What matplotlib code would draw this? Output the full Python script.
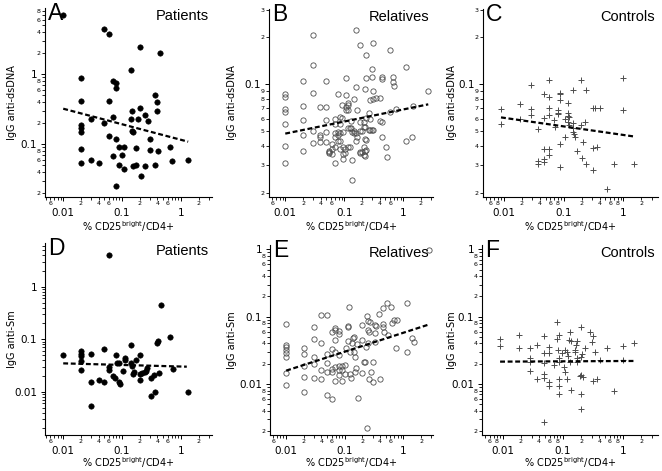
import numpy as np
import matplotlib
matplotlib.use("Agg")
import matplotlib.pyplot as plt
from matplotlib.ticker import LogLocator, FuncFormatter, NullFormatter

# ---- data (x = % CD25bright/CD4+, y = IgG titre) ----
# A: patients, anti-dsDNA
a_x = [0.01, 0.05, 0.06, 0.20, 0.45, 0.14, 0.02, 0.07, 0.08, 0.08, 0.02, 0.06,
       0.36, 0.39, 0.40, 0.20, 0.15, 0.25, 0.28, 0.19, 0.14, 0.07, 0.03, 0.02,
       0.02, 0.02, 0.05, 0.06, 0.08, 0.145, 0.155, 0.30, 0.02, 0.09, 0.11, 0.17,
       0.30, 0.41, 0.65, 0.07, 0.10, 0.02, 0.03, 0.04, 0.09, 0.11, 0.155, 0.175,
       0.25, 0.36, 0.72, 1.33, 0.21, 0.08]
a_y = [7.1, 4.4, 3.8, 2.4, 2.0, 1.15, 0.89, 0.80, 0.74, 0.64, 0.41, 0.41,
       0.50, 0.40, 0.30, 0.33, 0.30, 0.26, 0.21, 0.23, 0.225, 0.24, 0.23, 0.19,
       0.17, 0.15, 0.20, 0.13, 0.12, 0.155, 0.15, 0.12, 0.085, 0.09, 0.09, 0.088,
       0.083, 0.079, 0.092, 0.068, 0.069, 0.054, 0.059, 0.054, 0.051, 0.044, 0.049, 0.051,
       0.049, 0.050, 0.057, 0.059, 0.035, 0.025]
a_fit_x = [0.01, 1.33]
a_fit_y = [0.32, 0.108]

# B: relatives, anti-dsDNA
b_x = [0.01] * 7 + [0.02] * 5 + [0.03] * 5 + [0.039] * 4 + [0.05] * 5 + [0.056] * 3 \
    + [0.061] * 3 + [0.071] * 6 + [0.079] * 4 + [0.085] * 5 + [0.09] * 2 + [0.096] * 4 \
    + [0.102] * 2 + [0.106] * 4 + [0.116] * 5 + [0.126] * 2 + [0.131] * 2 + [0.138] * 3 \
    + [0.145] * 2 + [0.149] + [0.157] * 4 + [0.165] * 2 + [0.188] * 5 + [0.204] * 2 \
    + [0.217] * 4 + [0.229] * 5 + [0.238] * 5 + [0.261] * 2 + [0.271] * 3 + [0.29] * 3 \
    + [0.309] * 4 + [0.339] + [0.412] * 2 + [0.44] * 4 + [0.507] + [0.534] + [0.593] * 2 \
    + [0.659] * 2 + [0.694] + [0.75] + [1.10] * 2 + [1.39] + [1.48] + [2.66]
b_y = [0.086, 0.082, 0.069, 0.066, 0.055, 0.040, 0.031,
       0.104, 0.072, 0.059, 0.047, 0.037,
       0.205, 0.132, 0.088, 0.050, 0.042,
       0.047, 0.0455, 0.0426, 0.0715,
       0.1045, 0.0715, 0.0587, 0.0494, 0.0426,
       0.0372, 0.0366, 0.0358,
       0.0411, 0.0385, 0.0354,
       0.060, 0.0551, 0.0481, 0.0458, 0.0395, 0.0311,
       0.0858, 0.0488, 0.047, 0.0431,
       0.0616, 0.0551, 0.0481, 0.0431, 0.0385,
       0.0733, 0.0601,
       0.0493, 0.0395, 0.0354, 0.0332,
       0.038, 0.0358,
       0.109, 0.0845, 0.068, 0.0708,
       0.0751, 0.0733, 0.068, 0.052, 0.0393,
       0.0521, 0.0391,
       0.0519, 0.0581,
       0.0493, 0.0327, 0.0243,
       0.080, 0.0486,
       0.0498,
       0.223, 0.0957, 0.0486, 0.0428,
       0.068, 0.0454,
       0.178, 0.0573, 0.0498, 0.0366, 0.0358,
       0.0366, 0.0498,
       0.0573, 0.0531, 0.0395, 0.0349,
       0.0924, 0.0531, 0.0441, 0.0372, 0.0347,
       0.154, 0.109, 0.0601, 0.0436, 0.0376,
       0.0507, 0.0654,
       0.0789, 0.0592, 0.0508,
       0.124, 0.111, 0.0507,
       0.184, 0.0906, 0.080, 0.0508,
       0.081,
       0.081, 0.0575,
       0.111, 0.107, 0.0567, 0.0458,
       0.0395, 0.0341,
       0.166, 0.0664,
       0.111, 0.103,
       0.097, 0.0687,
       0.129, 0.0432,
       0.0458, 0.0722, 0.090]
b_fit_x = [0.01, 2.66]
b_fit_y = [0.048, 0.074]

# C: controls, anti-dsDNA
c_x = [0.009] * 2 + [0.0184] * 2 + [0.0282] * 3 + [0.0376] * 3 + [0.0475] * 5 \
    + [0.0577] * 6 + [0.07, 0.0728] + [0.0797] * 3 + [0.0873] * 5 + [0.107] * 2 \
    + [0.1175] * 4 + [0.1255] * 2 + [0.143] * 4 + [0.152, 0.158, 0.169] + [0.198] * 2 \
    + [0.203, 0.211, 0.225] + [0.234] * 2 + [0.311] * 2 + [0.332, 0.364, 0.404, 0.311] \
    + [0.543, 0.705] + [1.0] * 2 + [1.51]
c_y = [0.069, 0.0553,
       0.0743, 0.0592,
       0.098, 0.0687, 0.0631,
       0.0513, 0.0319, 0.0304,
       0.0858, 0.0601, 0.0385, 0.0332, 0.0316,
       0.106, 0.0829, 0.0705, 0.0629, 0.0385, 0.0349,
       0.0587, 0.0531,
       0.068, 0.0648, 0.0638,
       0.088, 0.0862, 0.0789, 0.0409, 0.0294,
       0.0596, 0.0454,
       0.0758, 0.0654, 0.0622, 0.0573,
       0.061, 0.0545,
       0.0915, 0.0564, 0.0524, 0.0493,
       0.0477, 0.0454, 0.037,
       0.106, 0.0545,
       0.0337, 0.0421, 0.0567,
       0.0915, 0.0308,
       0.0705, 0.0389,
       0.0705, 0.0395, 0.0705, 0.0279,
       0.0213, 0.0304,
       0.109, 0.068,
       0.0308]
c_fit_x = [0.009, 1.51]
c_fit_y = [0.061, 0.046]

# D: patients, anti-Sm
d_x = [0.01, 0.02, 0.02, 0.02, 0.02, 0.02, 0.03, 0.03, 0.03, 0.04, 0.05, 0.05,
       0.06, 0.06, 0.071, 0.0746, 0.08, 0.0828, 0.0896, 0.0896, 0.0932, 0.102,
       0.112, 0.112, 0.143, 0.143, 0.147, 0.153, 0.157, 0.172, 0.201, 0.201, 0.201,
       0.22, 0.244, 0.258, 0.268, 0.305, 0.309, 0.347, 0.366, 0.386, 0.406, 0.417,
       0.451, 0.65, 0.721, 1.33, 0.06]
d_y = [0.050, 0.0595, 0.053, 0.0485, 0.0384, 0.0259, 0.053, 0.0151, 0.0053, 0.0167,
       0.0659, 0.0155, 0.0299, 0.0259, 0.0196, 0.018, 0.0492, 0.0357, 0.0357, 0.0155,
       0.014, 0.0248, 0.0432, 0.0401, 0.0763, 0.0347, 0.0313, 0.0214, 0.024, 0.0395,
       0.0492, 0.0214, 0.0167, 0.0223, 0.024, 0.0251, 0.0278, 0.018, 0.0084, 0.0208,
       0.0101, 0.0858, 0.091, 0.023, 0.441, 0.112, 0.0266, 0.0099, 4.0]
d_fit_x = [0.01, 1.26]
d_fit_y = [0.0347, 0.030]

# E: relatives, anti-Sm
e_x = [0.01] * 8 + [0.02] * 5 + [0.03] * 5 + [0.039] * 4 + [0.05] * 5 + [0.0606] * 5 \
    + [0.069] * 6 + [0.0786] * 6 + [0.0895] * 3 + [0.0994] * 2 \
    + [0.106, 0.112, 0.112, 0.112, 0.119, 0.121, 0.124, 0.129, 0.132, 0.136, 0.141,
       0.145, 0.151, 0.151, 0.157, 0.161, 0.170, 0.196, 0.196, 0.196, 0.209, 0.223,
       0.229, 0.238, 0.241, 0.248, 0.248, 0.248, 0.254, 0.254, 0.271, 0.278, 0.301,
       0.309, 0.33, 0.33, 0.33, 0.347, 0.391, 0.401, 0.457, 0.457, 0.457, 0.475,
       0.521, 0.556, 0.609, 0.65, 0.694, 0.75, 0.791, 1.14, 1.14, 1.42, 1.54, 2.77]
e_y = [0.0787, 0.0379, 0.0351, 0.032, 0.0285, 0.0255, 0.0147, 0.0097,
       0.0339, 0.0276, 0.0187, 0.0129, 0.0077,
       0.071, 0.0466, 0.0255, 0.0196, 0.0121,
       0.106, 0.0402, 0.016, 0.0119,
       0.106, 0.0282, 0.0207, 0.0152, 0.0069,
       0.0585, 0.0327, 0.0165, 0.0152, 0.0059,
       0.0687, 0.0634, 0.045, 0.0302, 0.0181, 0.0111,
       0.0612, 0.0546, 0.027, 0.0187, 0.0161, 0.0136,
       0.0187, 0.0161, 0.0111,
       0.0191, 0.0139,
       0.0339, 0.0735, 0.071, 0.0435, 0.138, 0.0139, 0.0302, 0.0121, 0.0402, 0.0488,
       0.0505, 0.0295, 0.0255, 0.0149, 0.0175, 0.0388, 0.0063, 0.0752, 0.045, 0.0144,
       0.0215, 0.0215, 0.0351, 0.00225, 0.1035, 0.0872, 0.0634, 0.0402, 0.0598, 0.0119,
       0.0843, 0.0149, 0.0215, 0.0108, 0.0752, 0.0565, 0.0416, 0.0735, 0.108, 0.0117,
       0.136, 0.0769, 0.071, 0.0598, 0.158, 0.0534, 0.138, 0.0815, 0.0883, 0.0347,
       0.0883, 0.161, 0.0295, 0.0488, 0.0425, 0.977]
e_fit_x = [0.01, 2.77]
e_fit_y = [0.0158, 0.0769]

# F: controls, anti-Sm
f_x = [0.009] * 2 + [0.0184] * 2 + [0.0282] * 4 + [0.0376] * 2 + [0.0475] * 5 \
    + [0.0577] * 4 + [0.07] + [0.0797] * 2 + [0.0818, 0.0852] + [0.0873] * 5 \
    + [0.0969, 0.103, 0.11, 0.11, 0.115, 0.1175, 0.122, 0.1255, 0.129, 0.129, 0.134,
       0.134, 0.156, 0.158, 0.163, 0.169, 0.173, 0.173, 0.193] + [0.198] * 5 \
    + [0.211, 0.216, 0.231, 0.284, 0.299, 0.311, 0.311, 0.34, 0.364, 0.414, 0.543,
       0.705, 1.0, 1.0, 1.51, 0.0486]
f_y = [0.0461, 0.0367,
       0.0534, 0.0339,
       0.0339, 0.0246, 0.0215, 0.0156,
       0.0379, 0.0119,
       0.0522, 0.0285, 0.0207, 0.0139, 0.0121,
       0.0358, 0.0285, 0.0108, 0.0093,
       0.0191,
       0.0824, 0.0466,
       0.032, 0.0246,
       0.0534, 0.0215, 0.0119, 0.0093, 0.0071,
       0.0285, 0.0181, 0.032, 0.0152, 0.0119, 0.0302, 0.0261, 0.045, 0.0585, 0.0215,
       0.0435, 0.0081, 0.0302, 0.032, 0.0379, 0.0435, 0.024, 0.0215, 0.0133,
       0.071, 0.0255, 0.0136, 0.007, 0.0042,
       0.0276, 0.0129, 0.0339, 0.0598, 0.0425, 0.0522, 0.0112, 0.0295, 0.0119, 0.0227,
       0.0339, 0.008, 0.0371, 0.0227, 0.0402, 0.0027]
f_fit_x = [0.009, 1.51]
f_fit_y = [0.0215, 0.022]

W, H = 662, 471
fig = plt.figure(figsize=(W / 100, H / 100), dpi=100)
plt.rcParams["font.family"] = ["DejaVu Sans"]


def digit_fmt(labeled):
    def f(v, pos):
        e = np.floor(np.log10(v) + 1e-9)
        d = int(round(v / 10 ** e))
        return str(d) if d in labeled else ""
    return FuncFormatter(f)


def panel(box, xlim, ylim, xs, ys, kind, fit_x, fit_y, letter, group, ylabel,
          xlab, ylab, ylab_x, xlab_y):
    l, r, t, b = box
    ax = fig.add_axes([l / W, 1 - b / H, (r - l) / W, (b - t) / H])
    ax.set_xscale("log")
    ax.set_yscale("log")
    ax.set_xlim(*xlim)
    ax.set_ylim(*ylim)
    if kind == "filled":
        ax.plot(xs, ys, "o", ms=3.9, mfc="black", mec="black", mew=0.4, clip_on=False)
    elif kind == "open":
        ax.plot(xs, ys, "o", ms=3.8, mfc="none", mec="#4d4d4d", mew=0.6, clip_on=False)
    else:
        ax.plot(xs, ys, "+", ms=4.5, color="#4d4d4d", mew=0.7, clip_on=False)
    ax.plot(fit_x, fit_y, color="black", lw=1.6, ls=(0, (2.2, 1.2)))

    for s in ("top", "right"):
        ax.spines[s].set_visible(False)
    for s in ("left", "bottom"):
        ax.spines[s].set_linewidth(0.8)

    for axis, lab in ((ax.xaxis, xlab), (ax.yaxis, ylab)):
        axis.set_major_locator(LogLocator(base=10, numticks=20))
        axis.set_minor_locator(LogLocator(base=10, subs=np.arange(2, 10), numticks=20))
        axis.set_major_formatter(FuncFormatter(lambda v, p: f"{v:g}"))
        axis.set_minor_formatter(digit_fmt(lab) if lab else NullFormatter())

    ax.tick_params(which="major", direction="out", length=3.2, width=0.7, labelsize=7.5)
    ax.tick_params(which="minor", direction="out", length=2.0, width=0.6, labelsize=4.5)
    ax.tick_params(axis="x", which="major", pad=4.5)
    ax.tick_params(axis="x", which="minor", pad=1.0)
    ax.tick_params(axis="y", which="major", pad=2.5)
    ax.tick_params(axis="y", which="minor", pad=1.0)

    ax.set_xlabel("% CD25$^{\\mathrm{bright}}$/CD4+", fontsize=7)
    ax.xaxis.set_label_coords(0.5, xlab_y)
    ax.set_ylabel(ylabel, fontsize=7)
    ax.yaxis.set_label_coords(ylab_x, 0.5)

    ax.text(3 / (r - l), 1.0 + 6 / (b - t), letter, transform=ax.transAxes,
            fontsize=16.5, family="Liberation Sans", va="top", ha="left")
    ax.text(0.98, 1.0 - 1 / (b - t), group, transform=ax.transAxes,
            fontsize=10.5, family="Liberation Sans", va="top", ha="right")
    return ax


# x mapping is shared by column, y by row/panel
xl_ad = (0.0049, 3.38)
xl_be = (0.0053, 3.2)
xl_cf = (0.0045, 3.8)

panel((45, 212, 8, 197), xl_ad, (0.0175, 8.8), a_x, a_y, "filled", a_fit_x, a_fit_y,
      "A", "Patients", "IgG anti-dsDNA", {2, 4, 6}, {2, 4, 6, 8}, -0.17, -0.12)
panel((269, 433, 9, 197), xl_be, (0.0188, 0.303), b_x, b_y, "open", b_fit_x, b_fit_y,
      "B", "Relatives", "IgG anti-dsDNA", {2, 4, 6}, set(range(2, 10)), -0.195, -0.12)
panel((483, 658, 9, 197), xl_cf, (0.0188, 0.303), c_x, c_y, "plus", c_fit_x, c_fit_y,
      "C", "Controls", "IgG anti-dsDNA", {2, 4, 6, 8}, set(range(2, 10)), -0.15, -0.12)
panel((45, 212, 243, 435), xl_ad, (0.0015, 6.8), d_x, d_y, "filled", d_fit_x, d_fit_y,
      "D", "Patients", "IgG anti-Sm", {2, 4, 6}, None, -0.17, -0.105)
panel((270, 433, 245, 435), xl_be, (0.00175, 1.16), e_x, e_y, "open", e_fit_x, e_fit_y,
      "E", "Relatives", "IgG anti-Sm", {2, 4, 6}, {2, 4, 6, 8}, -0.2, -0.105)
panel((482, 658, 245, 435), xl_cf, (0.00175, 1.16), f_x, f_y, "plus", f_fit_x, f_fit_y,
      "F", "Controls", "IgG anti-Sm", {2, 4, 6, 8}, {2, 4, 6, 8}, -0.142, -0.105)

fig.savefig("out.png", dpi=100)
